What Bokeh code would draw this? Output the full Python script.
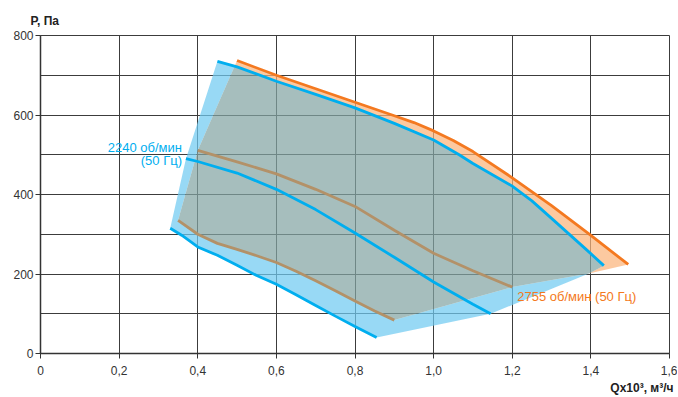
from bokeh.plotting import figure
from bokeh.models import FixedTicker, Label, Range1d, Title
from bokeh.embed import file_html
from bokeh.resources import INLINE

# ---------------- data ----------------
x_ticks = [0.0, 0.2, 0.4, 0.6, 0.8, 1.0, 1.2, 1.4, 1.6]
x_tick_labels = ["0", "0,2", "0,4", "0,6", "0,8", "1,0", "1,2", "1,4", "1,6"]
y_ticks = [0, 200, 400, 600, 800]
y_minor = [100, 300, 500, 700]
y_tick_labels = ["0", "200", "400", "600", "800"]

# 2240 rpm curves (blue)
q_blue_top = [0.45, 0.5, 0.6, 0.7, 0.8, 0.9, 1.0, 1.065, 1.1, 1.2, 1.25, 1.3, 1.39, 1.433]
p_blue_top = [735, 721, 685, 652, 618, 579, 537, 500, 478, 421, 384, 340, 260, 221]
q_blue_mid = [0.37, 0.4, 0.5, 0.6, 0.7, 0.8, 0.9, 1.0, 1.1, 1.145]
p_blue_mid = [490, 483, 454, 413, 362, 303, 242, 180, 124, 100]
q_blue_low = [0.33, 0.36, 0.4, 0.45, 0.5, 0.55, 0.6, 0.65, 0.7, 0.75, 0.8, 0.855]
p_blue_low = [315, 297, 268, 247, 222, 196, 174, 148, 121, 94, 68, 40]

# 2755 rpm curves (orange / brown)
q_orange_top = [0.5, 0.6, 0.7, 0.8, 0.9, 0.95, 1.0, 1.05, 1.1, 1.2, 1.3, 1.4, 1.495]
p_orange_top = [737, 700, 666, 632, 598, 581, 560, 536, 508, 442, 372, 297, 224]
q_brown_top = [0.4, 0.5, 0.6, 0.7, 0.8, 0.9, 1.0, 1.1, 1.2]
p_brown_top = [511, 482, 452, 413, 370, 310, 252, 208, 167]
q_brown_low = [0.35, 0.4, 0.45, 0.5, 0.55, 0.6, 0.65, 0.7, 0.75, 0.8, 0.85, 0.9]
p_brown_low = [335, 300, 277, 262, 246, 229, 207, 183, 158, 132, 107, 84]

# shared corner of the two working areas
q_corner = [1.395]
p_corner = [201]

label_blue_1 = "2240 об/мин"
label_blue_2 = "(50 Гц)"
label_orange = "2755 об/мин (50 Гц)"
y_title = "P, Па"
x_title = "Qx10³, м³/ч"

# ---------------- styles ----------------
FONT = "Liberation Sans"
BLUE = "#00AEEF"
ORANGE = "#F47920"
BROWN = "#B39168"
GRID = "#3c3c3c"
FILL_ALPHA = 0.72
FILL_BLUE = "#70CAF1"
FILL_ORANGE = "#FBB47B"
FILL_GRAY = "#83A5A3"


def seg_intersect(a, b, c, d):
    (x1, y1), (x2, y2), (x3, y3), (x4, y4) = a, b, c, d
    den = (x1 - x2) * (y3 - y4) - (y1 - y2) * (x3 - x4)
    if abs(den) < 1e-12:
        return None
    t = ((x1 - x3) * (y3 - y4) - (y1 - y3) * (x3 - x4)) / den
    u = -((x1 - x2) * (y1 - y3) - (y1 - y2) * (x1 - x3)) / den
    if 0 <= t <= 1 and 0 <= u <= 1:
        return (x1 + t * (x2 - x1), y1 + t * (y2 - y1))
    return None


def area(xs, ys):
    s = 0.0
    n = len(xs)
    for i in range(n):
        j = (i + 1) % n
        s += xs[i] * ys[j] - xs[j] * ys[i]
    return s / 2


# blue working area
blue_x = q_blue_top + q_corner + [q_blue_mid[-1]] + q_blue_low[::-1] + [q_blue_mid[0]]
blue_y = p_blue_top + p_corner + [p_blue_mid[-1]] + p_blue_low[::-1] + [p_blue_mid[0]]
# orange working area
orange_x = q_orange_top + q_corner + [q_brown_top[-1]] + q_brown_low[::-1] + [q_brown_top[0]]
orange_y = p_orange_top + p_corner + [p_brown_top[-1]] + p_brown_low[::-1] + [p_brown_top[0]]

# overlap: orange left edge meets blue top curve
a = (q_brown_top[0], p_brown_top[0])
b = (q_orange_top[0], p_orange_top[0])
ix = iy = None
k = 0
for i in range(len(q_blue_top) - 1):
    r = seg_intersect(a, b, (q_blue_top[i], p_blue_top[i]), (q_blue_top[i + 1], p_blue_top[i + 1]))
    if r is not None:
        ix, iy = r
        k = i
        break
over_x = [ix] + q_blue_top[k + 1:] + q_corner + [q_brown_top[-1]] + q_brown_low[::-1] + [q_brown_top[0]]
over_y = [iy] + p_blue_top[k + 1:] + p_corner + [p_brown_top[-1]] + p_brown_low[::-1] + [p_brown_top[0]]


def hole_for(outer_x, outer_y, hx, hy):
    if (area(outer_x, outer_y) > 0) == (area(hx, hy) > 0):
        return hx[::-1], hy[::-1]
    return hx, hy


bhx, bhy = hole_for(blue_x, blue_y, over_x, over_y)
ohx, ohy = hole_for(orange_x, orange_y, over_x, over_y)

# ---------------- figure ----------------
p = figure(width=677, height=396, x_range=Range1d(0, 1.6), y_range=Range1d(0, 800),
           output_backend="svg", toolbar_location=None,
           min_border_left=40, min_border_right=8, min_border_top=35, min_border_bottom=43)
p.background_fill_color = "white"
p.border_fill_color = "white"
p.outline_line_color = GRID
p.outline_line_width = 1

p.title.text = y_title
p.title.align = "left"
p.title.offset = -10
p.title.standoff = 15
p.title.text_font = FONT
p.title.text_font_size = "12px"
p.title.text_font_style = "bold"
p.title.text_color = "#222222"

p.add_layout(Title(text=x_title, align="right", offset=-4, standoff=3, text_font=FONT,
                   text_font_size="12px", text_font_style="bold", text_color="#222222"), "below")

p.xaxis.ticker = FixedTicker(ticks=x_ticks)
p.xaxis.major_label_overrides = dict(zip(x_ticks, x_tick_labels))
p.yaxis.ticker = FixedTicker(ticks=y_ticks, minor_ticks=y_minor)
p.yaxis.major_label_overrides = dict(zip(y_ticks, y_tick_labels))

for ax in (p.xaxis[0], p.yaxis[0]):
    ax.axis_line_color = "#333333"
    ax.axis_line_width = 1.5
    ax.major_tick_line_color = "#333333"
    ax.major_tick_out = 5
    ax.major_tick_in = 0
    ax.minor_tick_line_color = None
    ax.major_label_text_font = FONT
    ax.major_label_text_font_size = "12px"
    ax.major_label_text_color = "#333333"
p.xaxis.major_label_standoff = 7
p.yaxis.major_label_standoff = 2

p.xgrid.grid_line_color = GRID
p.xgrid.grid_line_width = 1
p.ygrid.grid_line_color = GRID
p.ygrid.grid_line_width = 1
p.ygrid.minor_grid_line_color = GRID
p.ygrid.minor_grid_line_width = 1

# fills
p.multi_polygons(xs=[[[blue_x, bhx]]], ys=[[[blue_y, bhy]]],
                 fill_color=FILL_BLUE, fill_alpha=FILL_ALPHA, line_color=None)
p.multi_polygons(xs=[[[orange_x, ohx]]], ys=[[[orange_y, ohy]]],
                 fill_color=FILL_ORANGE, fill_alpha=FILL_ALPHA, line_color=None)
p.multi_polygons(xs=[[[over_x]]], ys=[[[over_y]]],
                 fill_color=FILL_GRAY, fill_alpha=FILL_ALPHA, line_color=None)

# curves
p.line(q_brown_top, p_brown_top, line_color=BROWN, line_width=2.8)
p.line(q_brown_low, p_brown_low, line_color=BROWN, line_width=2.8)
p.line(q_blue_top, p_blue_top, line_color=BLUE, line_width=2.8)
p.line(q_blue_mid, p_blue_mid, line_color=BLUE, line_width=2.8)
p.line(q_blue_low, p_blue_low, line_color=BLUE, line_width=2.8)
p.line(q_orange_top, p_orange_top, line_color=ORANGE, line_width=2.8)

# texts
p.add_layout(Label(x=q_blue_mid[0], y=p_blue_mid[0], x_offset=-4, y_offset=11, text=label_blue_1,
                   text_align="right", text_baseline="middle", text_font=FONT,
                   text_font_size="13px", text_color=BLUE))
p.add_layout(Label(x=q_blue_mid[0], y=p_blue_mid[0], x_offset=-4, y_offset=-2, text=label_blue_2,
                   text_align="right", text_baseline="middle", text_font=FONT,
                   text_font_size="13px", text_color=BLUE))
p.add_layout(Label(x=q_brown_top[-1], y=p_brown_top[-1], x_offset=5, y_offset=-9, text=label_orange,
                   text_align="left", text_baseline="middle", text_font=FONT,
                   text_font_size="13px", text_color=ORANGE))

open("out.html", "w").write(file_html(p, INLINE))
